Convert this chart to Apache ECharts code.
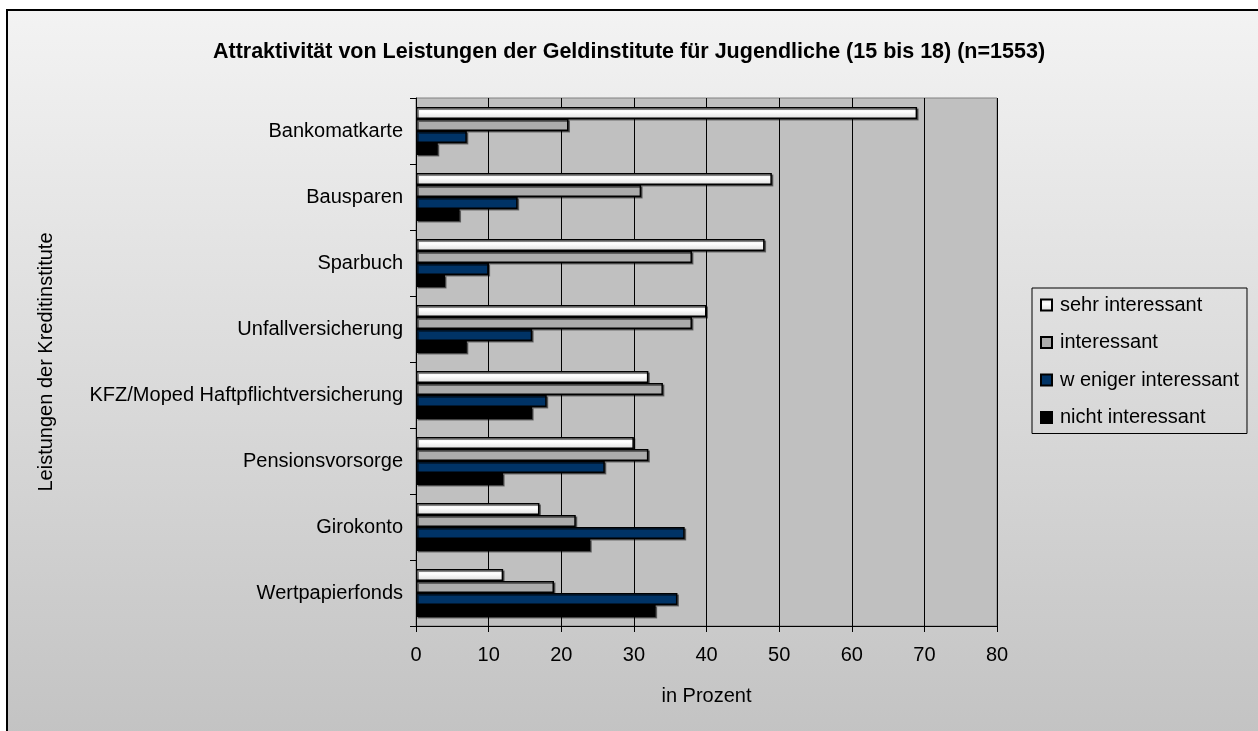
<!DOCTYPE html>
<html>
<head>
<meta charset="utf-8">
<script src="https://cdn.jsdelivr.net/npm/echarts@6/dist/echarts.min.js"></script>
<style>
  html, body { margin: 0; padding: 0; background: #fff; }
  #main { width: 1258px; height: 731px; }
</style>
</head>
<body>
<div id="main"></div>
<script>
    // Kategorien von oben nach unten
    var categories = ['Bankomatkarte', 'Bausparen', 'Sparbuch', 'Unfallversicherung',
        'KFZ/Moped Haftpflichtversicherung', 'Pensionsvorsorge', 'Girokonto', 'Wertpapierfonds'];

    var sehrInteressant   = [69, 49, 48, 40, 32, 30, 17, 12];
    var interessant       = [21, 31, 38, 38, 34, 32, 22, 19];
    var wenigerInteressant = [7, 14, 10, 16, 18, 26, 37, 36];
    var nichtInteressant  = [3, 6, 4, 7, 16, 12, 24, 33];

    var seriesNames = ['sehr interessant', 'interessant', 'w eniger interessant', 'nicht interessant'];
    var xTicks = [0, 10, 20, 30, 40, 50, 60, 70, 80];

    var font = 'Liberation Sans, Arial, sans-serif';
    var chart = echarts.init(document.getElementById('main'));

    function bar(name, data, color) {
        return {
            name: name,
            type: 'bar',
            data: data,
            barGap: '0%',
            barCategoryGap: '27%',
            itemStyle: {
                color: color,
                borderColor: '#000',
                borderWidth: 1.5,
                shadowColor: 'rgba(0,0,0,0.45)',
                shadowOffsetX: 1.5,
                shadowOffsetY: 1.5
            }
        };
    }

    var option = {
        animation: false,
        textStyle: { fontFamily: font },
        graphic: [{
            type: 'rect',
            z: -10,
            shape: { x: 7, y: 10, width: 1270, height: 740 },
            style: {
                fill: new echarts.graphic.LinearGradient(0, 0, 0, 1, [
                    { offset: 0, color: '#f3f3f3' },
                    { offset: 1, color: '#c2c2c2' }
                ]),
                stroke: '#000',
                lineWidth: 2
            }
        }],
        title: {
            text: 'Attraktivität von Leistungen der Geldinstitute für Jugendliche (15 bis 18) (n=1553)',
            left: 'center',
            top: 36,
            textStyle: { fontSize: 21.5, fontWeight: 'bold', color: '#000', fontFamily: font }
        },
        legend: {
            orient: 'vertical',
            left: 1032,
            top: 288,
            padding: [7, 8, 6, 8],
            itemGap: 17.5,
            itemWidth: 11,
            itemHeight: 11,
            borderColor: '#000',
            borderWidth: 1,
            icon: 'rect',
            data: seriesNames,
            textStyle: { fontSize: 20, color: '#000', lineHeight: 20, fontFamily: font, padding: [0, 0, 0, 3] }
        },
        grid: {
            left: 416,
            top: 98,
            width: 581,
            height: 528,
            show: true,
            backgroundColor: '#c0c0c0',
            borderColor: '#808080',
            borderWidth: 1
        },
        xAxis: {
            type: 'value',
            min: xTicks[0],
            max: xTicks[xTicks.length - 1],
            interval: 10,
            name: 'in Prozent',
            nameLocation: 'middle',
            nameGap: 60,
            nameTextStyle: { fontSize: 20, color: '#000', fontFamily: font },
            axisLine: { show: true, lineStyle: { color: '#000', width: 1 } },
            axisTick: { show: true, length: 6, lineStyle: { color: '#000' } },
            axisLabel: { fontSize: 20, color: '#000', margin: 19, fontFamily: font },
            splitLine: { show: true, lineStyle: { color: '#000', width: 1 } }
        },
        yAxis: {
            type: 'category',
            data: categories,
            inverse: true,
            name: 'Leistungen der Kreditinstitute',
            nameLocation: 'middle',
            nameGap: 360,
            nameRotate: 90,
            nameTextStyle: { fontSize: 20, color: '#000', fontFamily: font },
            axisLine: { show: true, lineStyle: { color: '#000', width: 1 } },
            axisTick: { show: true, length: 6, lineStyle: { color: '#000' } },
            axisLabel: { fontSize: 20, color: '#000', margin: 13, fontFamily: font }
        },
        series: [
            bar(seriesNames[0], sehrInteressant, new echarts.graphic.LinearGradient(0, 0, 0, 1, [
                { offset: 0, color: '#e8e8e8' },
                { offset: 0.4, color: '#ffffff' },
                { offset: 1, color: '#dcdcdc' }
            ])),
            bar(seriesNames[1], interessant, '#acacac'),
            bar(seriesNames[2], wenigerInteressant, '#003366'),
            bar(seriesNames[3], nichtInteressant, '#000000')
        ]
    };

    chart.setOption(option);
</script>
</body>
</html>
